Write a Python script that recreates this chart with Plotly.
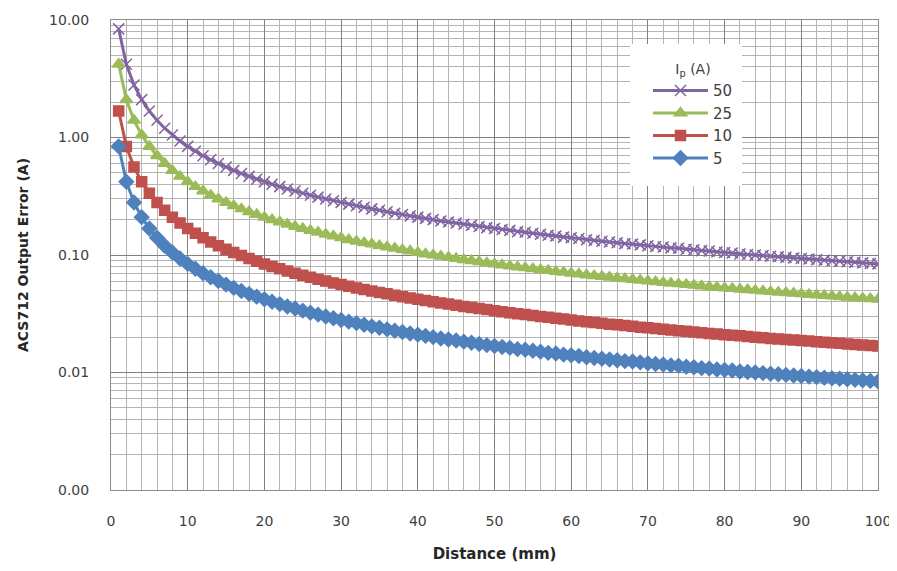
import plotly.graph_objects as go

distance = list(range(1, 101))

err_50 = [8.4, 4.2, 2.8, 2.1, 1.68, 1.4, 1.2, 1.05, 0.933, 0.84,
          0.764, 0.7, 0.646, 0.6, 0.56, 0.525, 0.494, 0.467, 0.442, 0.42,
          0.4, 0.382, 0.365, 0.35, 0.336, 0.323, 0.311, 0.3, 0.29, 0.28,
          0.271, 0.263, 0.255, 0.247, 0.24, 0.233, 0.227, 0.221, 0.215, 0.21,
          0.205, 0.2, 0.195, 0.191, 0.187, 0.183, 0.179, 0.175, 0.171, 0.168,
          0.165, 0.162, 0.158, 0.156, 0.153, 0.15, 0.147, 0.145, 0.142, 0.14,
          0.138, 0.135, 0.133, 0.131, 0.129, 0.127, 0.125, 0.124, 0.122, 0.12,
          0.118, 0.117, 0.115, 0.114, 0.112, 0.111, 0.109, 0.108, 0.106, 0.105,
          0.104, 0.102, 0.101, 0.1, 0.0988, 0.0977, 0.0966, 0.0955, 0.0944, 0.0933,
          0.0923, 0.0913, 0.0903, 0.0894, 0.0884, 0.0875, 0.0866, 0.0857, 0.0848, 0.084]

err_25 = [4.2, 2.1, 1.4, 1.05, 0.84, 0.7, 0.6, 0.525, 0.467, 0.42,
          0.382, 0.35, 0.323, 0.3, 0.28, 0.263, 0.247, 0.233, 0.221, 0.21,
          0.2, 0.191, 0.183, 0.175, 0.168, 0.162, 0.156, 0.15, 0.145, 0.14,
          0.135, 0.131, 0.127, 0.124, 0.12, 0.117, 0.114, 0.111, 0.108, 0.105,
          0.102, 0.1, 0.0977, 0.0955, 0.0933, 0.0913, 0.0894, 0.0875, 0.0857, 0.084,
          0.0824, 0.0808, 0.0792, 0.0778, 0.0764, 0.075, 0.0737, 0.0724, 0.0712, 0.07,
          0.0689, 0.0677, 0.0667, 0.0656, 0.0646, 0.0636, 0.0627, 0.0618, 0.0609, 0.06,
          0.0592, 0.0583, 0.0575, 0.0568, 0.056, 0.0553, 0.0545, 0.0538, 0.0532, 0.0525,
          0.0519, 0.0512, 0.0506, 0.05, 0.0494, 0.0488, 0.0483, 0.0477, 0.0472, 0.0467,
          0.0462, 0.0457, 0.0452, 0.0447, 0.0442, 0.0438, 0.0433, 0.0429, 0.0424, 0.042]

err_10 = [1.68, 0.84, 0.56, 0.42, 0.336, 0.28, 0.24, 0.21, 0.187, 0.168,
          0.153, 0.14, 0.129, 0.12, 0.112, 0.105, 0.0988, 0.0933, 0.0884, 0.084,
          0.08, 0.0764, 0.073, 0.07, 0.0672, 0.0646, 0.0622, 0.06, 0.0579, 0.056,
          0.0542, 0.0525, 0.0509, 0.0494, 0.048, 0.0467, 0.0454, 0.0442, 0.0431, 0.042,
          0.041, 0.04, 0.0391, 0.0382, 0.0373, 0.0365, 0.0357, 0.035, 0.0343, 0.0336,
          0.0329, 0.0323, 0.0317, 0.0311, 0.0305, 0.03, 0.0295, 0.029, 0.0285, 0.028,
          0.0275, 0.0271, 0.0267, 0.0263, 0.0258, 0.0255, 0.0251, 0.0247, 0.0243, 0.024,
          0.0237, 0.0233, 0.023, 0.0227, 0.0224, 0.0221, 0.0218, 0.0215, 0.0213, 0.021,
          0.0207, 0.0205, 0.0202, 0.02, 0.0198, 0.0195, 0.0193, 0.0191, 0.0189, 0.0187,
          0.0185, 0.0183, 0.0181, 0.0179, 0.0177, 0.0175, 0.0173, 0.0171, 0.017, 0.0168]

err_5 = [0.84, 0.42, 0.28, 0.21, 0.168, 0.14, 0.12, 0.105, 0.0933, 0.084,
         0.0764, 0.07, 0.0646, 0.06, 0.056, 0.0525, 0.0494, 0.0467, 0.0442, 0.042,
         0.04, 0.0382, 0.0365, 0.035, 0.0336, 0.0323, 0.0311, 0.03, 0.029, 0.028,
         0.0271, 0.0263, 0.0255, 0.0247, 0.024, 0.0233, 0.0227, 0.0221, 0.0215, 0.021,
         0.0205, 0.02, 0.0195, 0.0191, 0.0187, 0.0183, 0.0179, 0.0175, 0.0171, 0.0168,
         0.0165, 0.0162, 0.0158, 0.0156, 0.0153, 0.015, 0.0147, 0.0145, 0.0142, 0.014,
         0.0138, 0.0135, 0.0133, 0.0131, 0.0129, 0.0127, 0.0125, 0.0124, 0.0122, 0.012,
         0.0118, 0.0117, 0.0115, 0.0114, 0.0112, 0.0111, 0.0109, 0.0108, 0.0106, 0.0105,
         0.0104, 0.0102, 0.0101, 0.01, 0.00988, 0.00977, 0.00966, 0.00955, 0.00944, 0.00933,
         0.00923, 0.00913, 0.00903, 0.00894, 0.00884, 0.00875, 0.00866, 0.00857, 0.00848, 0.0084]

y_tickvals = [0.001, 0.01, 0.1, 1, 10]
y_ticktext = ["0.00", "0.01", "0.10", "1.00", "10.00"]

series = [
    ("50", err_50, "#8064A2", "x-thin", 11),
    ("25", err_25, "#9BBB59", "triangle-up", 11),
    ("10", err_10, "#C0504D", "square", 10),
    ("5", err_5, "#4F81BD", "diamond", 11),
]

fig = go.Figure()
for name, vals, color, sym, size in series:
    fig.add_trace(go.Scatter(
        x=distance, y=vals, name=name, legendgroup=name, mode="lines+markers",
        line=dict(color=color, width=3),
        marker=dict(symbol=sym, size=size, color=color,
                    line=dict(color=color, width=1.5)),
    ))

minor_y = [m * 10 ** e for e in range(-3, 1) for m in range(2, 10)]

# page offset of the figure inside the browser (default body margin)
OX, OY = 8, 8
W, H = 889, 555
# plot area in screen pixels
SL, SR, ST, SB = 111, 878, 20, 490
L, R, T, B = SL - OX, W - (SR - OX), ST - OY, H - (SB - OY)
pw, ph = SR - SL, SB - ST

def px_x(p):
    return (p - SL) / pw

def px_y(p):
    return (SB - p) / ph

fig.add_shape(type="rect", xref="paper", yref="paper",
              x0=px_x(630), x1=px_x(742), y0=px_y(186), y1=px_y(44),
              fillcolor="white", line=dict(width=0), layer="above")

fig.update_layout(
    width=W, height=H,
    margin=dict(l=L, r=R, t=T, b=B, autoexpand=False),
    paper_bgcolor="white", plot_bgcolor="white",
    font=dict(family="DejaVu Sans", size=13, color="#404040"),
    showlegend=True,
    legend=dict(
        x=px_x(648), y=px_y(56), xanchor="left", yanchor="top",
        bgcolor="rgba(0,0,0,0)", borderwidth=0,
        title=dict(text="I<sub>p</sub> (A)", side="top center", font=dict(size=14)),
        font=dict(size=15, color="#404040"),
        tracegroupgap=0, itemwidth=55,
    ),
)

fig.update_xaxes(
    range=[0, 100], dtick=10, tick0=0, automargin=False,
    ticklabeloverflow="allow",
    showgrid=True, gridcolor="#808080", gridwidth=1,
    minor=dict(dtick=2, showgrid=True, gridcolor="#b4b4b4", gridwidth=1),
    showline=True, linecolor="#8c8c8c", mirror=True,
    zeroline=False, ticks="", ticklabelstandoff=18,
    tickfont=dict(size=14, color="#404040"),
    title=dict(text="<b>Distance (mm)</b>", font=dict(size=15, color="#262626"), standoff=25),
)

fig.update_yaxes(
    type="log", range=[-3, 1], automargin=False,
    ticklabeloverflow="allow",
    tickmode="array", tickvals=y_tickvals, ticktext=y_ticktext,
    showgrid=True, gridcolor="#808080", gridwidth=1,
    minor=dict(tickmode="array", tickvals=minor_y, showgrid=True,
               gridcolor="#b4b4b4", gridwidth=1),
    showline=True, linecolor="#8c8c8c", mirror=True,
    zeroline=False, ticks="", ticklabelstandoff=18,
    tickfont=dict(size=14, color="#404040"),
    title=dict(text="<b>ACS712 Output Error (A)</b>", font=dict(size=14, color="#262626"), standoff=17),
)

fig.write_html("out.html")
